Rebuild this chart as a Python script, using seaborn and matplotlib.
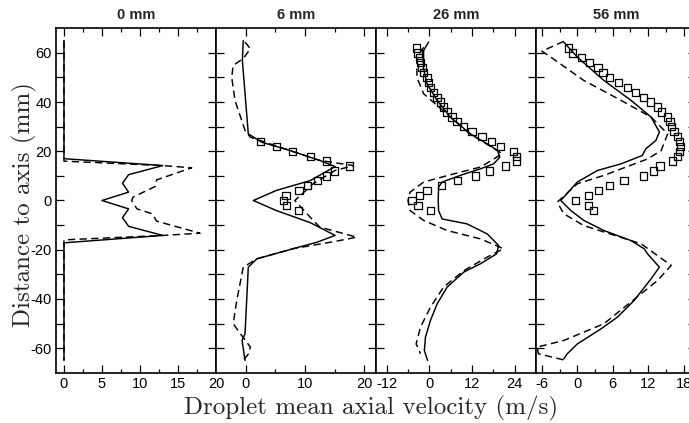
import numpy as np
import pandas as pd
import matplotlib
matplotlib.use("Agg")
import matplotlib.pyplot as plt
import seaborn as sns
from matplotlib.ticker import FixedLocator

# ---------------- data ----------------
titles = ["0 mm", "6 mm", "26 mm", "56 mm"]

# panel 0 mm
p0_solid_v = [0, 0, 13, 8.5, 7.7, 8.5, 5, 8.5, 7.7, 8.5, 13, 0, 0]
p0_solid_y = [65, 17, 14.2, 10.5, 7, 3.4, 0, -3.4, -7, -10.5, -14.2, -17.2, -65]
p0_dash_v = [0, 0, 13, 16.8, 12.2, 12, 9.1, 8.9, 9.6, 11.6, 12.2, 17.9, 13, 0, 0]
p0_dash_y = [65, 16, 14.2, 13.3, 8.4, 5.7, 1.4, 0, -3.4, -5.4, -8.4, -13.3, -14.2, -16, -65]

# panel 6 mm
p1_solid_v = [-0.4, -0.55, 0.45, 2.7, 7.5, 12.5, 15.1, 10.9, 5.2, 1.3, 5.2, 10.9, 15.1,
              12.0, 8.0, 1.9, 0.45, -0.1, -0.6, -0.1]
p1_solid_y = [65, 56.9, 27.1, 23.7, 20.3, 16.3, 13.8, 8.1, 4.1, 0, -4.1, -9.0, -14.2,
              -17, -19.6, -23.7, -27.1, -54.2, -56.9, -65]
p1_dash_v = [-0.1, 0.8, -0.4, -2.1, -2.35, -1.8, -0.1, 0.8, 7.5, 12.5, 18.2, 15.1, 11.5,
             8.3, 10.9, 12.5, 18.75, 15.4, 8.0, 1.9, -0.4, -1.5, -2.1, -1.3, 0.8, 0.5, -0.4]
p1_dash_y = [64.4, 61.7, 57.7, 54.9, 50.1, 40.7, 28.5, 25.7, 20.3, 16.3, 14.2, 12.2, 7.0,
             0, -6.8, -10.8, -14.9, -16.5, -19.6, -23.7, -27.1, -40.7, -50.1, -52.8, -59.6, -62.3, -65]
p1_exp_v = [2.5, 5.2, 7.9, 11.0, 13.7, 17.5, 15.0, 13.6, 12.1, 10.4, 9.0, 6.8, 6.4, 6.9, 8.9]
p1_exp_y = [24, 22, 20, 18, 16, 14, 12, 10, 8, 6, 4, 2, 0, -2, -4]

# panel 26 mm
p2_solid_v = [-0.2, -1.6, -1.7, -0.65, 2.2, 5.9, 11.5, 16.3, 19.2, 19.8, 18.1, 14.4, 8.7,
              3.6, 2.6, 2.5, 2.6, 3.6, 10.6, 16.3, 19.5, 18.9, 14.4, 9.7, 5.0, 2.2, 0.3,
              -1.1, -1.4, -0.5]
p2_solid_y = [64.4, 61, 54.2, 47.4, 40.7, 33.9, 27.1, 23, 20.3, 17.6, 14.9, 12.9, 10.2,
              7.5, 5.4, 0, -4.1, -7.5, -9.5, -13.6, -18.3, -21.7, -25.7, -29.1, -35.2,
              -42, -48.8, -55.6, -61, -65]
p2_dash_v = [-1.6, -3.5, -3.5, -1.6, 2.2, 5.9, 11.5, 20.5, 14.4, 6.8, -1.6, -5.4, -6.0,
             -5.4, -1.6, 5.0, 14.4, 20.8, 16.3, 9.7, 4.0, 0.3, -2.5, -3.7, -2.5]
p2_dash_y = [62.3, 58.3, 50.1, 43.4, 38.6, 33.9, 27.1, 19, 13.6, 10.8, 7.5, 3.4, 0,
             -4.1, -8.1, -12.2, -15.6, -19.6, -23, -28.5, -35.2, -43.4, -51.5, -58.3, -62.3]
p2_exp_v = [-3.7, -3.2, -2.8, -2.5, -2.1, -1.6, -0.7, -0.2, 0.3, 1.2, 2.2, 3.1, 4.0, 5.0,
            6.4, 7.8, 9.7, 12.0, 14.8, 17.4, 20.0, 23.6, 24.5, 24.5, 21.4, 16.9, 13.0,
            8.0, 3.4, -0.7, -2.8, -4.9, -3.2, 0.3]
p2_exp_y = [62, 60, 58, 56, 54, 52, 50, 48, 46, 44, 42, 40, 38, 36, 34, 32, 30, 28, 26,
            24, 22, 20, 18, 16, 14, 12, 10, 8, 6, 4, 2, 0, -2, -4]

# panel 56 mm
p3_solid_v = [-2.3, 0, 4.5, 9.1, 12.5, 13.9, 13.3, 11.6, 11.0, 7.4, 3.4, 0, -2.8, -1.1,
              1.1, 4.5, 9.1, 11.3, 11.9, 13.9, 12.5, 9.6, 6.8, 4.0, 0, -1.7, -2.3]
p3_solid_y = [64.4, 58.3, 48.8, 40.7, 33.9, 27.8, 24.4, 21, 18.3, 14.9, 12.2, 7.5, 0,
              -4.1, -8.1, -12.2, -16.3, -19.6, -21.7, -27.1, -31.8, -40.7, -47.4, -52.2,
              -58.3, -62.3, -64.4]
p3_dash_v = [-2.3, -6.0, -4.5, 1.1, 7.4, 12.5, 15.3, 14.2, 11.9, 4.5, 0, -3.4, -2.3, 1.1,
             10.8, 15.9, 13.6, 4.5, -2.3, -6.8, -6.6, -2.3]
p3_dash_y = [64.7, 60.7, 58.3, 48.8, 40.7, 33.9, 27.1, 20.3, 16.9, 10.2, 6.8, -0.7, -5.4,
             -10.2, -17.6, -26.4, -32.5, -50.1, -56.9, -59.6, -62.3, -64.8]
p3_exp_v = [-1.5, -0.85, 0.68, 2.1, 3.5, 4.35, 5.5, 7.0, 8.5, 9.8, 11.2, 12.4, 13.6, 14.3,
            15.3, 15.7, 16.0, 16.4, 17.0, 17.3, 17.5, 17.3, 17.0, 16.1, 14.0, 12.9, 11.2,
            7.9, 5.4, 3.6, 1.9, -0.3, 1.9, 2.7]
p3_exp_y = [62, 60, 58, 56, 54, 52, 50, 48, 46, 44, 42, 40, 38, 36, 34, 32, 30, 28, 26,
            24, 22, 20, 18, 16, 14, 12, 10, 8, 6, 4, 2, 0, -2, -4]

xticks_major = [[0, 5, 10, 15, 20], [0, 10, 20], [-12, 0, 12, 24], [-6, 0, 6, 12, 18]]
xticklabels = [["0", "5", "10", "15", "20"], ["0", "10", "20"],
               ["-12", "0", "12", "24"], ["-6", "0", "6", "12", "18"]]
xticks_minor = [[2.5, 7.5, 12.5, 17.5], [5, 15], [-6, 6, 18], [-3, 3, 9, 15]]
xlims = [(-1.05, 20), (-5, 22), (-15, 30), (-7, 20.1)]
yticks = [-60, -40, -20, 0, 20, 40, 60]
yticklabels = ["-60", "-40", "-20", "0", "20", "40", "60"]
yminor = [-50, -30, -10, 10, 30, 50]

panels = [
    (p0_solid_v, p0_solid_y, p0_dash_v, p0_dash_y, None, None),
    (p1_solid_v, p1_solid_y, p1_dash_v, p1_dash_y, p1_exp_v, p1_exp_y),
    (p2_solid_v, p2_solid_y, p2_dash_v, p2_dash_y, p2_exp_v, p2_exp_y),
    (p3_solid_v, p3_solid_y, p3_dash_v, p3_dash_y, p3_exp_v, p3_exp_y),
]

# ---------------- figure ----------------
sns.set_theme(style="ticks")
plt.rcParams["font.family"] = ["Liberation Sans", "DejaVu Sans"]

W, H = 689, 423
fig = plt.figure(figsize=(W / 100, H / 100), dpi=100)
fig.patch.set_facecolor("white")

left0 = 56
pw = 160
bottom_px = 423 - 372.7
height_px = 372.7 - 28.3

for i, (sv, sy, dv, dy, ev, ey) in enumerate(panels):
    ax = fig.add_axes([(left0 + i * pw) / W, bottom_px / H, pw / W, height_px / H])
    ax.set_facecolor("white")
    ds = pd.DataFrame({"v": sv, "y": sy})
    dd = pd.DataFrame({"v": dv, "y": dy})
    sns.lineplot(data=ds, x="v", y="y", sort=False, estimator=None, color="black",
                 lw=1.05, ax=ax)
    sns.lineplot(data=dd, x="v", y="y", sort=False, estimator=None, color="black",
                 lw=1.05, linestyle=(0, (5, 3)), ax=ax)
    if ev is not None:
        de = pd.DataFrame({"v": ev, "y": ey})
        sns.scatterplot(data=de, x="v", y="y", marker="s", s=28, facecolor="none",
                        edgecolor="black", linewidth=0.9, ax=ax, zorder=3)
    ax.set_xlim(*xlims[i])
    ax.set_ylim(-70, 70)
    ax.xaxis.set_major_locator(FixedLocator(xticks_major[i]))
    ax.set_xticklabels(xticklabels[i])
    ax.xaxis.set_minor_locator(FixedLocator(xticks_minor[i]))
    ax.yaxis.set_major_locator(FixedLocator(yticks))
    ax.yaxis.set_minor_locator(FixedLocator(yminor))
    if i == 0:
        ax.set_yticklabels(yticklabels)
    else:
        ax.set_yticklabels([])
    ax.tick_params(axis="both", which="both", direction="in", top=True, right=True,
                   colors="black", width=0.9, labelsize=10.5, pad=3)
    ax.tick_params(axis="x", which="major", length=6)
    ax.tick_params(axis="x", which="minor", length=3)
    ax.tick_params(axis="y", which="both", length=6)
    for sp in ax.spines.values():
        sp.set_color("black")
        sp.set_linewidth(1.2)
    ax.set_xlabel("")
    ax.set_ylabel("")
    ax.set_title(titles[i], fontsize=10.5, fontweight="bold", pad=7)

fig.text(371 / W, 1 - 408 / H, "Droplet mean axial velocity (m/s)", ha="center",
         va="center", fontsize=18, family="cmr10")
fig.text(24 / W, 1 - 205 / H, "Distance to axis (mm)", ha="center", va="center",
         rotation=90, fontsize=18, family="cmr10")

fig.savefig("out.png", dpi=100)
